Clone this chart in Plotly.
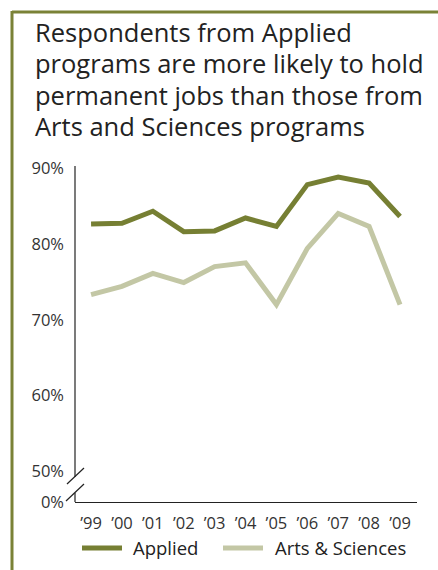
import plotly.graph_objects as go

years = ["’99", "’00", "’01", "’02", "’03", "’04", "’05", "’06", "’07", "’08", "’09"]
applied = [82.6, 82.7, 84.3, 81.6, 81.7, 83.4, 82.3, 87.8, 88.8, 88.0, 83.6]
arts_sciences = [73.3, 74.4, 76.1, 74.9, 77.0, 77.5, 72.0, 79.4, 84.0, 82.3, 72.0]
series_names = ["Applied", "Arts & Sciences"]

# broken axis: "0%" is drawn just below the 50% tick
tick_vals = [46.0, 50, 60, 70, 80, 90]
tick_text = ["0%", "50%", "60%", "70%", "80%", "90%"]

title_lines = ["Respondents from Applied",
               "programs are more likely to hold",
               "permanent jobs than those from",
               "Arts and Sciences programs"]

W, H = 438, 570
L, R, T, B = 75, 21, 166, 68
pw, ph = W - L - R, H - T - B

def px_x(p):
    return (p - L) / pw

def px_y(p):
    return (H - B - p) / ph

OLIVE = "#767f33"
SAGE = "#c3c7a5"
FONT = "Open Sans, sans-serif"

fig = go.Figure()
x_idx = list(range(len(years)))
fig.add_trace(go.Scatter(x=x_idx, y=applied, mode="lines", name=series_names[0],
                         line=dict(color=OLIVE, width=5)))
fig.add_trace(go.Scatter(x=x_idx, y=arts_sciences, mode="lines", name=series_names[1],
                         line=dict(color=SAGE, width=5)))

shapes = []
# frame
shapes.append(dict(type="line", xref="paper", yref="paper", x0=px_x(12), x1=px_x(440),
                   y0=px_y(12), y1=px_y(12), line=dict(color="#7a8237", width=3)))
shapes.append(dict(type="line", xref="paper", yref="paper", x0=px_x(12), x1=px_x(12),
                   y0=px_y(11), y1=px_y(572), line=dict(color="#7a8237", width=3)))
# y axis with gap
shapes.append(dict(type="line", xref="paper", yref="paper", x0=0, x1=0,
                   y0=1, y1=px_y(477), line=dict(color="#222", width=1.2)))
shapes.append(dict(type="line", xref="paper", yref="paper", x0=0, x1=0,
                   y0=px_y(493), y1=0, line=dict(color="#222", width=1.2)))
# break marks
shapes.append(dict(type="line", xref="paper", yref="paper", x0=px_x(67), x1=px_x(84),
                   y0=px_y(484), y1=px_y(468), line=dict(color="#222", width=1.2)))
shapes.append(dict(type="line", xref="paper", yref="paper", x0=px_x(66), x1=px_x(84),
                   y0=px_y(501), y1=px_y(484), line=dict(color="#222", width=1.2)))
# legend samples
for (x0, x1), c in zip([(82, 122), (223, 263)], [OLIVE, SAGE]):
    shapes.append(dict(type="line", xref="paper", yref="paper", x0=px_x(x0), x1=px_x(x1),
                       y0=px_y(548), y1=px_y(548), line=dict(color=c, width=5)))

annotations = []
for i, line in enumerate(title_lines):
    annotations.append(dict(text=line, xref="paper", yref="paper", x=px_x(33),
                            y=px_y(32 + i * 31.3), xanchor="left", yanchor="middle",
                            showarrow=False, font=dict(family=FONT, size=25.5, color="#222")))
for xs, name in zip([131, 273], series_names):
    annotations.append(dict(text=name, xref="paper", yref="paper", x=px_x(xs), y=px_y(547),
                            xanchor="left", yanchor="middle", showarrow=False,
                            font=dict(family=FONT, size=18.5, color="#222")))

fig.update_layout(
    width=W, height=H,
    margin=dict(l=L, r=R, t=T, b=B),
    paper_bgcolor="white", plot_bgcolor="white",
    font=dict(family=FONT, color="#333"),
    shapes=shapes,
    showlegend=False,
    annotations=annotations,
)
fig.update_xaxes(range=[-0.52, 10.55], tickvals=x_idx, ticktext=years, showgrid=False,
                 zeroline=False, showline=True, linecolor="#222", linewidth=1.2,
                 ticks="", ticklabelstandoff=6, tickfont=dict(size=16.5, color="#333"),
                 fixedrange=True)
fig.update_yaxes(range=[46.0, 90.25], tickvals=tick_vals, ticktext=tick_text, showgrid=False,
                 zeroline=False, showline=False, ticks="", ticklabelstandoff=10,
                 tickfont=dict(size=16.5, color="#333"), fixedrange=True)

fig.write_html("out.html")
